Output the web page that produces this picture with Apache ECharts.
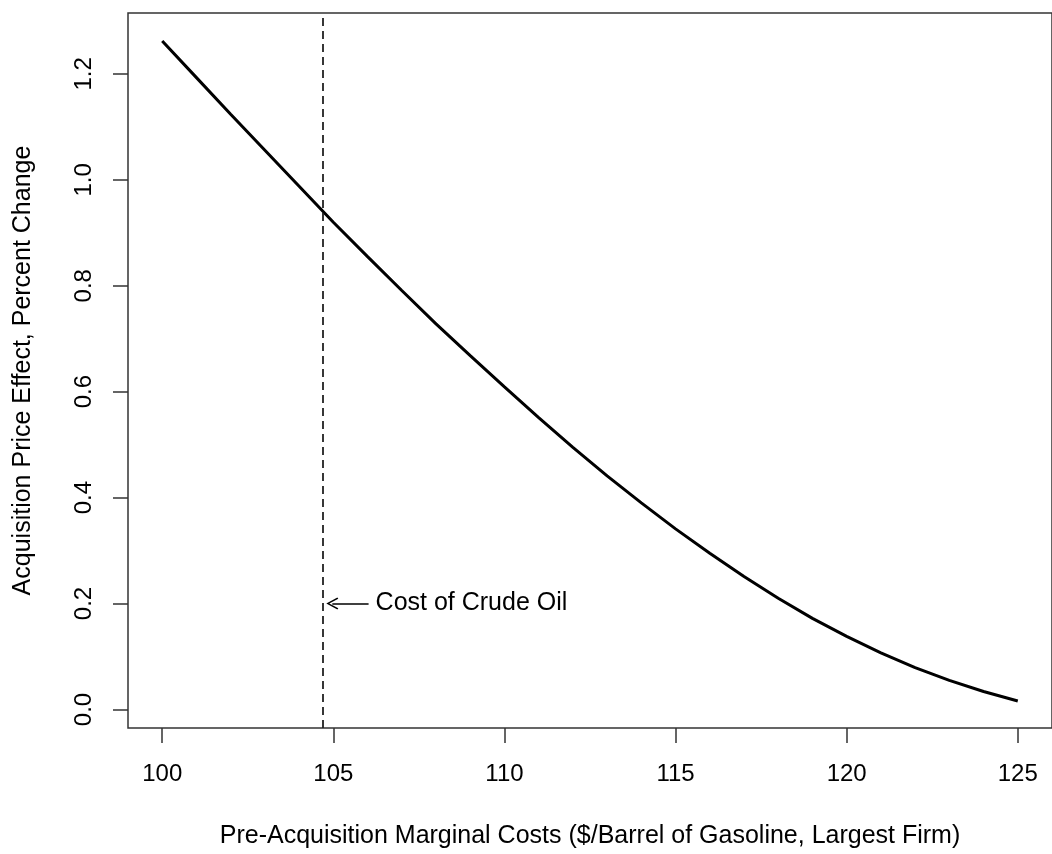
<!DOCTYPE html>
<html>
<head>
<meta charset="utf-8">
<script src="https://cdn.jsdelivr.net/npm/echarts@6/dist/echarts.min.js"></script>
<style>
  html, body { margin: 0; padding: 0; background: #fff; }
  #chart { width: 1052px; height: 854px; }
</style>
</head>
<body>
<div id="chart"></div>
<script>
// marginal cost of the largest firm ($/barrel)
var costs = [100, 101, 102, 103, 104, 105, 106, 107, 108, 109, 110, 111, 112,
  113, 114, 115, 116, 117, 118, 119, 120, 121, 122, 123, 124, 125];
// acquisition price effect (% change)
var effects = [1.262, 1.193, 1.124, 1.056, 0.988, 0.920, 0.855, 0.791, 0.728,
  0.668, 0.609, 0.551, 0.495, 0.441, 0.390, 0.341, 0.295, 0.251, 0.210, 0.172,
  0.138, 0.107, 0.079, 0.055, 0.034, 0.016];
var xTicks = [100, 105, 110, 115, 120, 125];
var yTicks = [0, 0.2, 0.4, 0.6, 0.8, 1.0, 1.2];
var crudeCost = 104.7;
var arrowFrom = [106.03, 0.2];
var arrowTo = [104.97, 0.2];
var noteText = 'Cost of Crude Oil';

var font = '"Liberation Sans", Arial, sans-serif';
var axisColor = '#333';

var points = costs.map(function (c, i) { return [c, effects[i]]; });

var option = {
  animation: false,
  backgroundColor: '#fff',
  textStyle: { fontFamily: font },
  grid: {
    left: 128, top: 13, width: 930, height: 719,
    show: true, borderColor: axisColor, borderWidth: 1.5, backgroundColor: 'transparent'
  },
  xAxis: {
    type: 'value',
    min: 99, max: 126,
    name: 'Pre-Acquisition Marginal Costs ($/Barrel of Gasoline, Largest Firm)',
    nameLocation: 'middle',
    nameGap: 96,
    nameTextStyle: { color: '#000', fontSize: 25, fontFamily: font },
    axisLine: { show: false, onZero: false },
    splitLine: { show: false },
    axisTick: { show: true, length: 15, customValues: xTicks,
      lineStyle: { color: axisColor, width: 1.5 } },
    axisLabel: { customValues: xTicks, margin: 34, color: '#000', fontSize: 24, fontFamily: font }
  },
  yAxis: {
    type: 'value',
    min: -0.035, max: 1.315,
    name: 'Acquisition Price Effect, Percent Change',
    nameLocation: 'middle',
    nameGap: 92,
    nameRotate: 90,
    nameTextStyle: { color: '#000', fontSize: 25, fontFamily: font },
    axisLine: { show: false, onZero: false },
    splitLine: { show: false },
    axisTick: { show: true, length: 15, customValues: yTicks,
      lineStyle: { color: axisColor, width: 1.5 } },
    axisLabel: {
      customValues: yTicks, rotate: 90, margin: 32, color: '#000', fontSize: 24, fontFamily: font,
      formatter: function (v) { return v.toFixed(1); }
    }
  },
  series: [
    {
      type: 'line',
      data: points,
      showSymbol: false,
      smooth: false,
      lineStyle: { color: '#000', width: 3 },
      markLine: {
        silent: true,
        symbol: ['none', 'none'],
        data: [
          {
            xAxis: crudeCost,
            lineStyle: { color: '#222', width: 1.8, type: [8, 5] },
            label: { show: false }
          },
          [
            {
              coord: arrowFrom, symbol: 'none',
              lineStyle: { color: '#000', width: 1.5, type: 'solid' },
              label: {
                show: true, position: 'start', distance: 7,
                formatter: noteText, color: '#000', fontSize: 25, fontFamily: font
              }
            },
            {
              coord: arrowTo,
              symbol: 'path://M6,0 L12,10.5 L10.8,11.4 L6,2.8 L1.2,11.4 L0,10.5 Z',
              symbolSize: [12, 12]
            }
          ]
        ]
      }
    }
  ]
};

var chart = echarts.init(document.getElementById('chart'), null, { renderer: 'canvas' });
chart.setOption(option);
</script>
</body>
</html>
